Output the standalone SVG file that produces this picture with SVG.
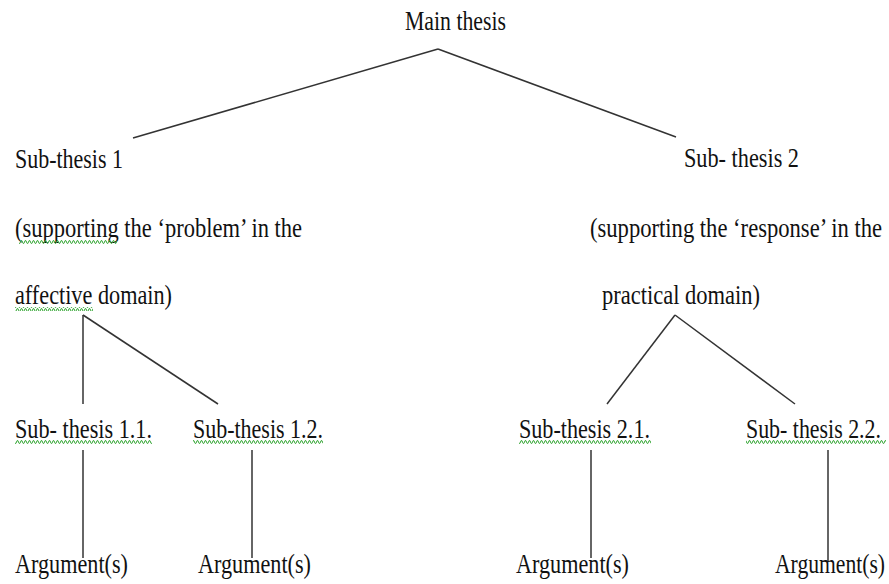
<svg xmlns="http://www.w3.org/2000/svg" width="889" height="584" viewBox="0 0 889 584">
<style>
text{font-family:"Liberation Serif","Times New Roman",serif;font-size:22px;fill:#111}
.c line{stroke:#333;stroke-width:1.5}
.sq{fill:url(#wave)}
</style>
<defs>
<pattern id="wave" width="4" height="4" patternUnits="userSpaceOnUse">
<path d="M0 3.3 L1 0.7 L2 0.7 L3 3.3 L4 3.3" fill="none" stroke="#3aa83a" stroke-width="1"/>
</pattern>
</defs>
<rect width="889" height="584" fill="#fff"/>
<g class="c" id="connectors">
<line x1="438" y1="49" x2="133" y2="138"/>
<line x1="438" y1="49" x2="676" y2="137"/>
<line x1="83" y1="315" x2="83" y2="404"/>
<line x1="83" y1="315" x2="218" y2="404"/>
<line x1="675" y1="315" x2="607" y2="404"/>
<line x1="675" y1="315" x2="795" y2="404"/>
<line x1="83" y1="450" x2="83" y2="558"/>
<line x1="252" y1="450" x2="252" y2="558"/>
<line x1="591" y1="450" x2="591" y2="558"/>
<line x1="828" y1="450" x2="828" y2="562"/>
</g>
<g id="main"><text transform="scale(1,1.27)" x="405" y="23.62" textLength="101" lengthAdjust="spacingAndGlyphs">Main thesis</text></g>
<g id="sub1">
<text transform="scale(1,1.27)" x="15" y="132.28" textLength="108" lengthAdjust="spacingAndGlyphs">Sub-thesis 1</text>
<text transform="scale(1,1.27)" x="15" y="186.61" textLength="287" lengthAdjust="spacingAndGlyphs">(supporting the ‘problem’ in the</text>
<text transform="scale(1,1.27)" x="15" y="239.37" textLength="157" lengthAdjust="spacingAndGlyphs">affective domain)</text>
<rect class="sq" x="19" y="240" width="98" height="4"/>
<rect class="sq" x="15" y="307" width="78" height="4"/>
</g>
<g id="sub2">
<text transform="scale(1,1.27)" x="684" y="131.5" textLength="115" lengthAdjust="spacingAndGlyphs">Sub- thesis 2</text>
<text transform="scale(1,1.27)" x="590" y="186.61" textLength="292" lengthAdjust="spacingAndGlyphs">(supporting the ‘response’ in the</text>
<text transform="scale(1,1.27)" x="602" y="239.37" textLength="158" lengthAdjust="spacingAndGlyphs">practical domain)</text>
</g>
<g id="sub11">
<text transform="scale(1,1.27)" x="15" y="344.88" textLength="137" lengthAdjust="spacingAndGlyphs">Sub- thesis 1.1.</text>
<rect class="sq" x="15" y="440" width="137" height="4"/>
</g>
<g id="sub12">
<text transform="scale(1,1.27)" x="193" y="344.88" textLength="130" lengthAdjust="spacingAndGlyphs">Sub-thesis 1.2.</text>
<rect class="sq" x="193" y="440" width="130" height="4"/>
</g>
<g id="sub21">
<text transform="scale(1,1.27)" x="519" y="344.88" textLength="131" lengthAdjust="spacingAndGlyphs">Sub-thesis 2.1.</text>
<rect class="sq" x="519" y="440" width="132" height="4"/>
</g>
<g id="sub22">
<text transform="scale(1,1.27)" x="746" y="344.88" textLength="135" lengthAdjust="spacingAndGlyphs">Sub- thesis 2.2.</text>
<rect class="sq" x="746" y="440" width="140" height="4"/>
</g>
<g id="arg11"><text transform="scale(1,1.27)" x="15" y="451.18" textLength="113" lengthAdjust="spacingAndGlyphs">Argument(s)</text></g>
<g id="arg12"><text transform="scale(1,1.27)" x="198" y="451.18" textLength="113" lengthAdjust="spacingAndGlyphs">Argument(s)</text></g>
<g id="arg21"><text transform="scale(1,1.27)" x="516" y="451.18" textLength="113" lengthAdjust="spacingAndGlyphs">Argument(s)</text></g>
<g id="arg22"><text transform="scale(1,1.27)" x="775" y="451.18" textLength="110" lengthAdjust="spacingAndGlyphs">Argument(s)</text></g>
</svg>
